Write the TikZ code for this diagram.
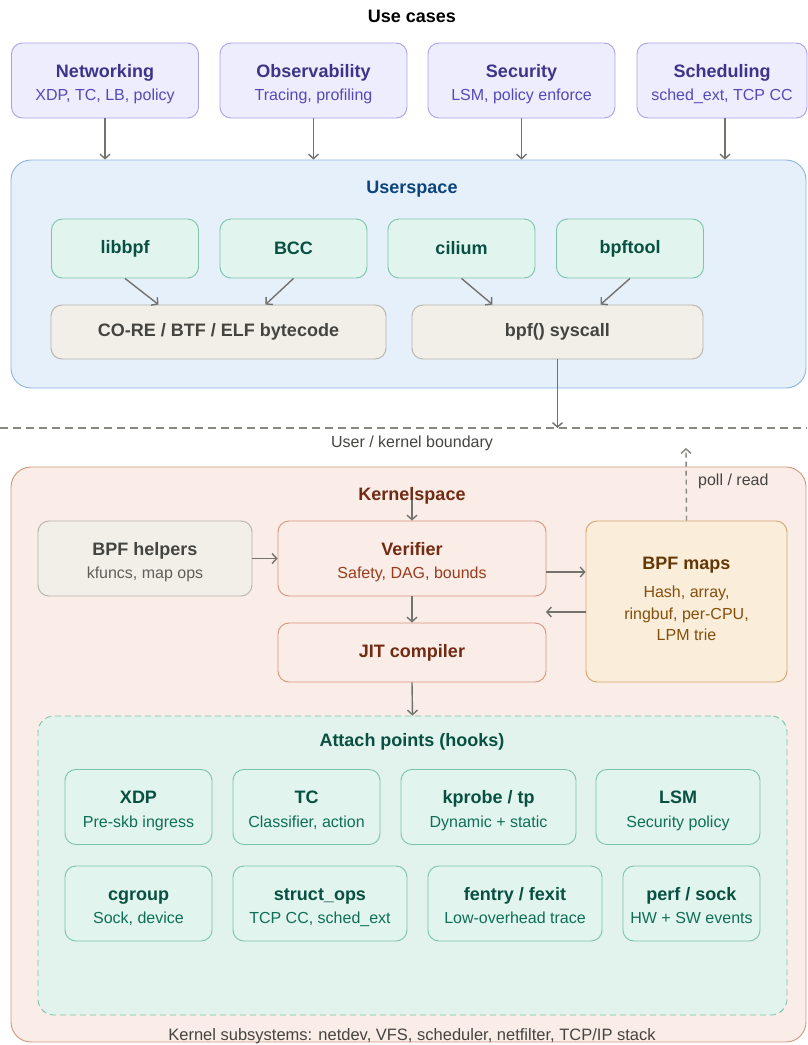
\documentclass[tikz,border=0pt]{standalone}
\usepackage{fontspec}
\setmainfont{Liberation Sans}
\usetikzlibrary{arrows.meta}
\definecolor{ucF}{HTML}{EEEDFE}
\definecolor{ucB}{HTML}{A9A2E6}
\definecolor{ucT}{HTML}{3C3489}
\definecolor{ucS}{HTML}{534AB7}
\definecolor{usF}{HTML}{E6F0FB}
\definecolor{usB}{HTML}{8AB3DE}
\definecolor{usT}{HTML}{0C447C}
\definecolor{gnF}{HTML}{E1F5EE}
\definecolor{gnB}{HTML}{7CC3AA}
\definecolor{gnT}{HTML}{085041}
\definecolor{gnS}{HTML}{0F6E56}
\definecolor{atF}{HTML}{E1F3EC}
\definecolor{gyF}{HTML}{F1EFE8}
\definecolor{gyB}{HTML}{B4B2A9}
\definecolor{gyT}{HTML}{444441}
\definecolor{gyS}{HTML}{5F5E5A}
\definecolor{kcF}{HTML}{FAECE7}
\definecolor{kcB}{HTML}{D6937C}
\definecolor{kcT}{HTML}{712B13}
\definecolor{kcS}{HTML}{993C1D}
\definecolor{amF}{HTML}{FAEEDA}
\definecolor{amB}{HTML}{CFA56E}
\definecolor{amT}{HTML}{633806}
\definecolor{amS}{HTML}{854F0B}
\definecolor{arC}{HTML}{73726C}
% two-line box: name, style, position, title, subtitle, title colour, subtitle colour
\newcommand{\dbox}[7]{%
  \node[#2] (#1) at (#3) {};
  \node[ttl, text=#6, anchor=base] (#1-t) at ([yshift=3.2pt]#1.center) {#4};
  \node[subt, text=#7, anchor=base] (#1-s) at ([yshift=-20pt]#1.center) {#5};}
\begin{document}
\begin{tikzpicture}[x=1pt,y=-1pt,
  box/.style={rounded corners=11pt, line width=0.9pt, inner sep=0pt, align=center},
  uc/.style={box, draw=ucB, fill=ucF, minimum width=187pt, minimum height=75pt},
  gn/.style={box, draw=gnB, fill=gnF, text=gnT, minimum width=147pt, minimum height=59pt, font=\fontsize{18}{22}\selectfont\bfseries},
  gy/.style={box, draw=gyB, fill=gyF, text=gyT, minimum height=54pt, font=\fontsize{18}{22}\selectfont\bfseries},
  kc/.style={box, draw=kcB, fill=kcF, text=kcT, minimum width=268pt},
  hk/.style={box, draw=gnB, fill=gnF, minimum height=75pt},
  ttl/.style={font=\fontsize{18}{22}\selectfont\bfseries, inner sep=0pt},
  subt/.style={font=\fontsize{16}{20}\selectfont, inner sep=0pt},
  arr/.style={draw=arC, line width=1.4pt, -{Straight Barb[length=4.5pt,width=10pt,line width=1.4pt]}},
  lbl/.style={font=\fontsize{16}{20}\selectfont, text=gyT, inner sep=0pt}
]
\useasboundingbox (0,0) rectangle (807,1045);

% Title
\node[ttl, text=black] (usecases) at (412,16) {Use cases};

% Use cases
\dbox{net}{uc}{105,80.5}{Networking}{XDP, TC, LB, policy}{ucT}{ucS}
\dbox{obs}{uc}{313.5,80.5}{Observability}{Tracing, profiling}{ucT}{ucS}
\dbox{sec}{uc}{521.5,80.5}{Security}{LSM, policy enforce}{ucT}{ucS}
\dbox{sch}{uc, minimum width=170pt}{722,80.5}{Scheduling}{sched\_ext, TCP CC}{ucT}{ucS}

% Userspace container
\node[box, rounded corners=20pt, draw=usB, fill=usF, minimum width=795pt, minimum height=228pt] (user) at (408.5,274) {};
\node[ttl, text=usT] (usertitle) at (412,189) {Userspace};

\node[gn] (libbpf) at (125,248.5) {libbpf};
\node[gn] (bcc) at (293.5,248.5) {BCC};
\node[gn] (cilium) at (461.5,248.5) {cilium};
\node[gn] (bpftool) at (630,248.5) {bpftool};
\node[gy, minimum width=335pt] (core) at (218.5,332) {CO-RE / BTF / ELF bytecode};
\node[gy, minimum width=291pt] (sys) at (557.5,332) {bpf() syscall};

% use case arrows
\draw[arr] (net.south) -- (net.south |- user.north);
\draw[arr] (obs.south) -- (obs.south |- user.north);
\draw[arr] (sec.south) -- (sec.south |- user.north);
\draw[arr] ([xshift=3pt]sch.south) -- ([xshift=3pt]sch.south |- user.north);

\draw[arr] (libbpf.south) -- ([xshift=-60pt]core.north);
\draw[arr] (bcc.south) -- ([xshift=47pt]core.north);
\draw[arr] (cilium.south) -- ([xshift=-65pt]sys.north);
\draw[arr] (bpftool.south) -- ([xshift=43pt]sys.north);

% boundary
\coordinate (bl) at (0,428);
\coordinate (br) at (807,428);
\draw[draw=arC!85, line width=1.4pt, dash pattern=on 8pt off 5pt] (bl) -- (br);
\draw[arr] (sys.south) -- (sys.south |- bl);
\node[lbl] (bound) at (412,443) {User / kernel boundary};

% Kernelspace container
\node[box, rounded corners=20pt, draw=kcB, fill=kcF, minimum width=795pt, minimum height=575pt] (kern) at (408.5,754.5) {};
\node[ttl, text=kcT] (kerntitle) at (412,496) {Kernelspace};

\dbox{help}{box, draw=gyB, fill=gyF, minimum width=214pt, minimum height=75pt}{145,558.5}{BPF helpers}{kfuncs, map ops}{gyT}{gyS}
\dbox{ver}{kc, minimum height=75pt}{412,558.5}{Verifier}{Safety, DAG, bounds}{kcT}{kcS}
\node[kc, minimum height=59pt, font=\fontsize{18}{22}\selectfont\bfseries] (jit) at (412,652.5) {JIT compiler};
\node[box, draw=amB, fill=amF, minimum width=201pt, minimum height=161pt] (maps) at (686.5,601.5) {};
\node[ttl, text=amT, anchor=base] (maps-t) at (686.5,569) {BPF maps};
\node[subt, text=amS, anchor=base] (maps-1) at (686.5,597.5) {Hash, array,};
\node[subt, text=amS, anchor=base] (maps-2) at (686.5,619) {ringbuf, per-CPU,};
\node[subt, text=amS, anchor=base] (maps-3) at (686.5,640.5) {LPM trie};

\coordinate (kin) at (412,500);
\draw[arr] (kin) -- (ver.north);
\draw[arr] (help.east) -- (ver.west);
\draw[arr] (ver.south) -- (jit.north);
\draw[arr] ([yshift=-13.5pt]ver.east) -- ([yshift=-13.5pt]ver.east -| maps.west);
\coordinate (back) at (546,612);
\draw[arr] (maps.west |- back) -- (back);

% poll / read
\coordinate (pollend) at (686,448);
\draw[draw=arC!85, line width=1.4pt, dash pattern=on 5pt off 4pt, -{Straight Barb[length=4.5pt,width=10pt,line width=1.4pt]}] (maps.north) -- (pollend);
\node[lbl, anchor=west] (poll) at (698,481) {poll / read};

% Attach points
\node[box, rounded corners=16pt, draw=gnB, fill=atF, dash pattern=on 6pt off 4pt, minimum width=749pt, minimum height=299pt] (att) at (412.5,865.5) {};
\node[ttl, text=gnT] (atttitle) at (412,742) {Attach points (hooks)};
\draw[arr] (jit.south) -- (att.north);

\dbox{xdp}{hk, minimum width=147pt}{138.5,807}{XDP}{Pre-skb ingress}{gnT}{gnS}
\dbox{tc}{hk, minimum width=147pt}{306.5,807}{TC}{Classifier, action}{gnT}{gnS}
\dbox{kprobe}{hk, minimum width=175pt}{488.5,807}{kprobe / tp}{Dynamic + static}{gnT}{gnS}
\dbox{lsm}{hk, minimum width=164pt}{678,807}{LSM}{Security policy}{gnT}{gnS}
\dbox{cgroup}{hk, minimum width=147pt}{138.5,903.5}{cgroup}{Sock, device}{gnT}{gnS}
\dbox{sops}{hk, minimum width=174pt}{320,903.5}{struct\_ops}{TCP CC, sched\_ext}{gnT}{gnS}
\dbox{fentry}{hk, minimum width=174pt}{515,903.5}{fentry / fexit}{Low-overhead trace}{gnT}{gnS}
\dbox{perf}{hk, minimum width=137pt}{691.5,903.5}{perf / sock}{HW + SW events}{gnT}{gnS}

\node[lbl, font=\fontsize{16.5}{20}\selectfont] (subsys) at (412,1036) {Kernel subsystems: netdev, VFS, scheduler, netfilter, TCP/IP stack};
\end{tikzpicture}
\end{document}
